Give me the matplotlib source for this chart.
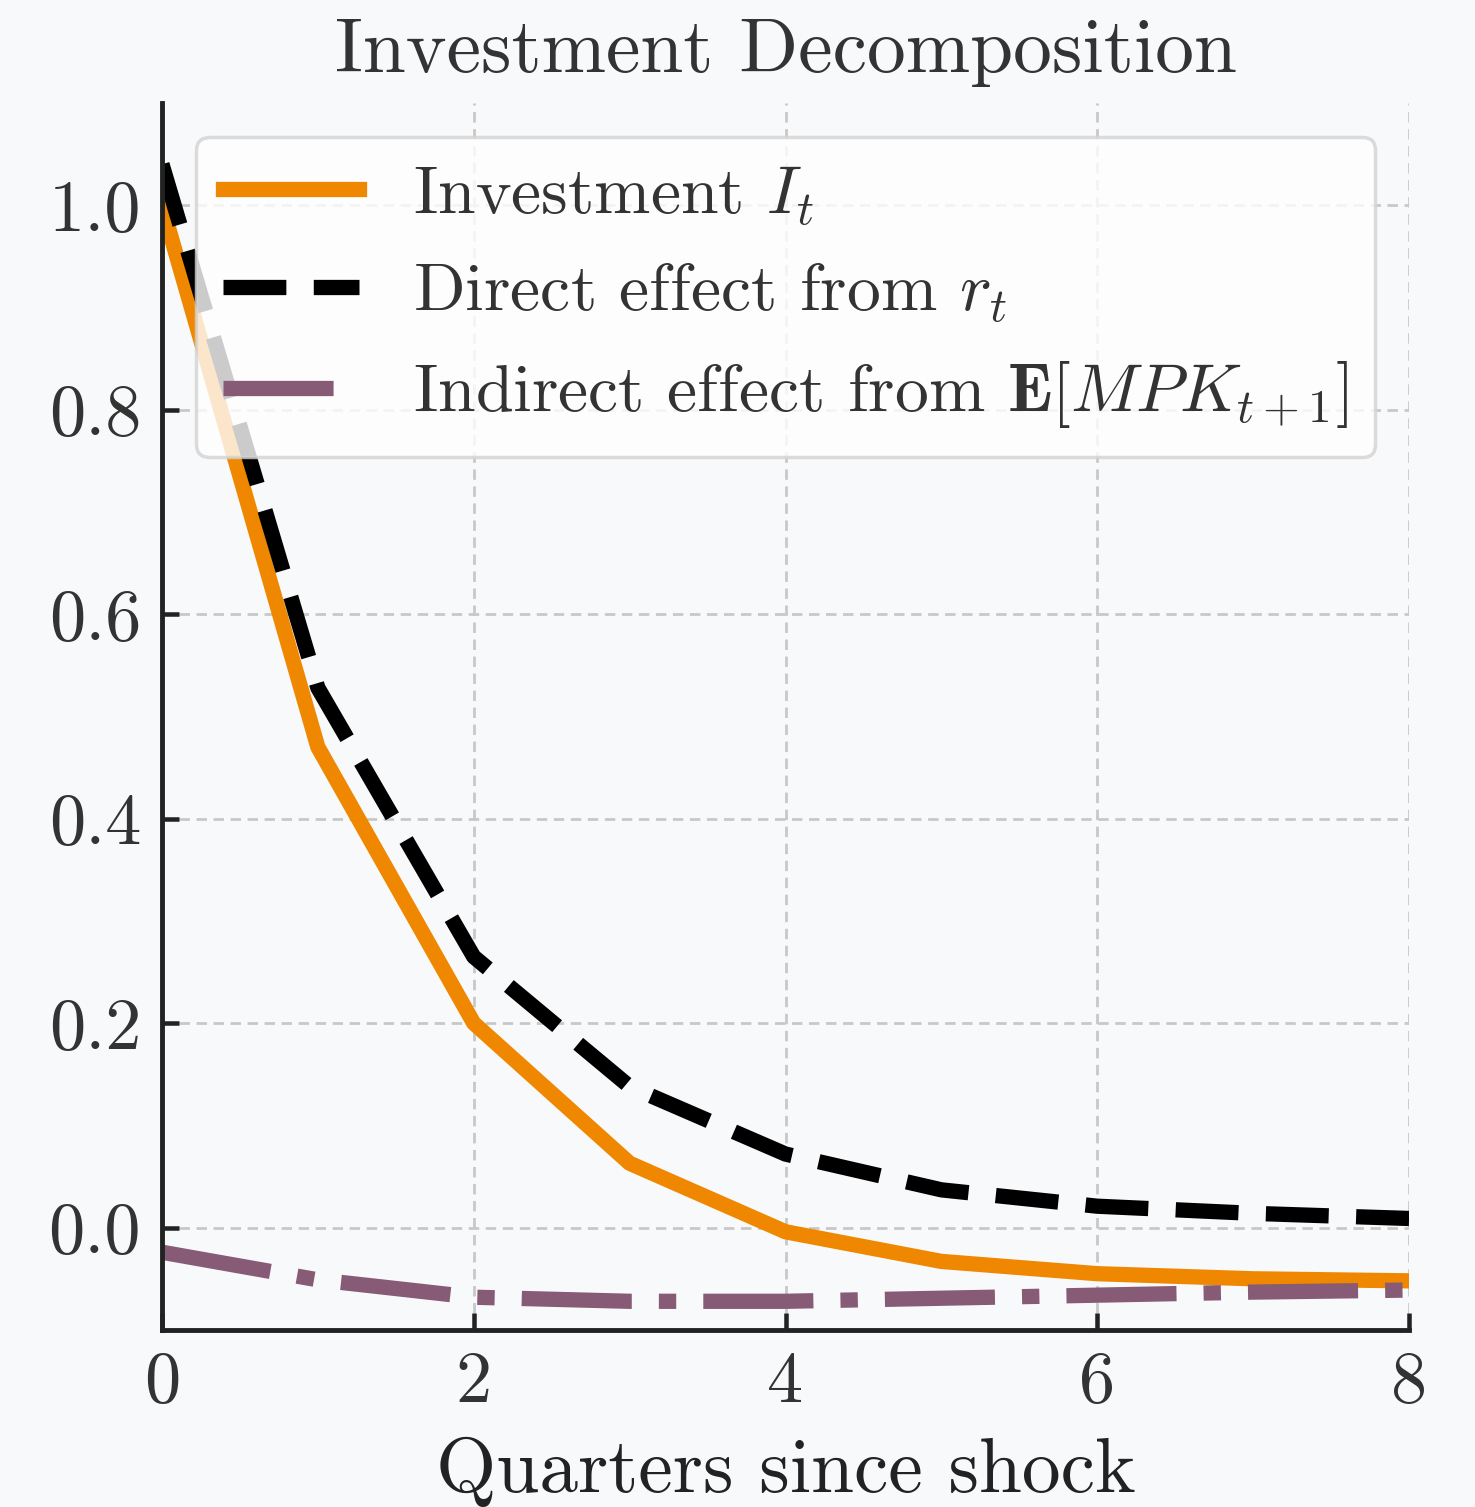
import matplotlib
matplotlib.use("Agg")
import matplotlib.pyplot as plt

quarters = [0, 1, 2, 3, 4, 5, 6, 7, 8]
investment = [1.00, 0.470, 0.200, 0.063, -0.004, -0.033, -0.045, -0.050, -0.052]
direct_effect = [1.04, 0.528, 0.265, 0.138, 0.072, 0.037, 0.021, 0.014, 0.009]
indirect_effect = [-0.024, -0.051, -0.068, -0.072, -0.072, -0.069, -0.066, -0.063, -0.061]

labels = [r"Investment $I_t$",
          r"Direct effect from $r_t$",
          r"Indirect effect from $\mathbf{E}[MPK_{t+1}]$"]
xticks = [0, 2, 4, 6, 8]
yticks = [0.0, 0.2, 0.4, 0.6, 0.8, 1.0]

plt.rcParams["font.family"] = ["cmr10", "DejaVu Serif"]
plt.rcParams["mathtext.fontset"] = "cm"
plt.rcParams["axes.formatter.use_mathtext"] = True
plt.rcParams["lines.scale_dashes"] = False

bg = "#f8f9fb"
fig = plt.figure(figsize=(5.9, 6.028), dpi=250, facecolor=bg)
ax = fig.add_axes([0.1098, 0.1175, 0.8455, 0.8142])
ax.set_facecolor(bg)

lw = 4.4
ax.plot(quarters, investment, color="#f08700", lw=lw, label=labels[0])
ax.plot(quarters, direct_effect, color="black", lw=lw,
        ls=(0, (18.1, 7.9)), label=labels[1])
ax.plot(quarters, indirect_effect, color="#875a75", lw=lw,
        ls=(0, (31.7, 7.8, 5.0, 7.8)), label=labels[2])

ax.set_xlim(0, 8)
ax.set_ylim(-0.1, 1.1)
ax.set_xticks(xticks)
ax.set_yticks(yticks)
ax.set_xticklabels([str(v) for v in xticks])
ax.set_yticklabels([f"{v:.1f}" for v in yticks])

ax.grid(True, color="#c8c8c8", lw=0.8, ls=(0, (3.0, 1.9)))
ax.set_axisbelow(True)
for s in ["top", "right"]:
    ax.spines[s].set_visible(False)
for s in ["left", "bottom"]:
    ax.spines[s].set_linewidth(1.4)
    ax.spines[s].set_color("#222222")
ax.tick_params(direction="in", length=5, width=1.3, color="#222222",
               labelsize=20.8, labelcolor="#333333", pad=6)

ax.set_title("Investment Decomposition", fontsize=22.3, color="#333333", pad=9)
ax.set_xlabel("Quarters since shock", fontsize=22.3, color="#222222", labelpad=6)

leg = ax.legend(loc="upper right", fontsize=19.5, frameon=True, fancybox=True,
                framealpha=0.8, facecolor="white", edgecolor="#d3d3d3")
leg.get_frame().set_linewidth(1.0)
for t in leg.get_texts():
    t.set_color("#333333")

fig.savefig("out.png", dpi=250, facecolor=bg)
